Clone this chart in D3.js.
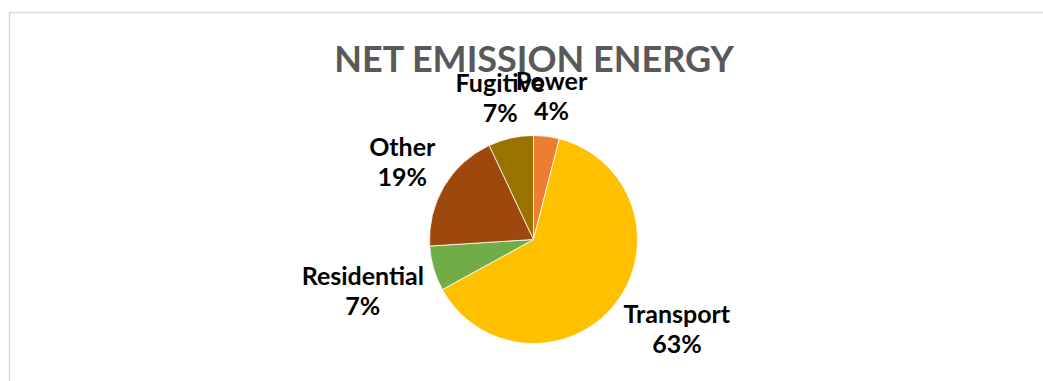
<!DOCTYPE html>
<html>
<head>
<meta charset="utf-8">
<script src="https://cdn.jsdelivr.net/npm/d3@7"></script>
<style>
  html, body { margin: 0; padding: 0; background: #fff; }
  svg { display: block; }
</style>
</head>
<body>
<script>
// Net emissions from the energy sector, share by source (%)
const categories = ["Power", "Transport", "Residential", "Other", "Fugitive"];
const shares = [4, 63, 7, 19, 7];
const colors = ["#ED7D31", "#FFC000", "#70AD47", "#9E480E", "#997300"];
const chartTitle = "NET EMISSION ENERGY";

const W = 1043, H = 381;
const svg = d3.select("body").append("svg").attr("width", W).attr("height", H);

// chart frame
svg.append("rect")
  .attr("x", 9.5).attr("y", 12.5)
  .attr("width", W + 20).attr("height", H + 20)
  .attr("fill", "#fff").attr("stroke", "#d9d9d9").attr("stroke-width", 1.5);

svg.append("text")
  .attr("x", 534).attr("y", 72)
  .attr("text-anchor", "middle")
  .attr("font-family", "Lato, 'Open Sans', sans-serif")
  .attr("font-weight", 700)
  .attr("font-size", 36)
  .attr("fill", "#595959")
  .text(chartTitle);

const cx = 533.5, cy = 239.5, R = 104;
const g = svg.append("g").attr("transform", `translate(${cx},${cy})`);

const rows = categories.map((c, i) => ({ name: c, value: shares[i], color: colors[i] }));
const pie = d3.pie().value(d => d.value).sort(null);
const arc = d3.arc().innerRadius(0).outerRadius(R);
const arcs = pie(rows);

g.selectAll("path.slice")
  .data(arcs)
  .join("path")
  .attr("class", "slice")
  .attr("d", arc)
  .attr("fill", d => d.data.color)
  .attr("stroke", "#fff")
  .attr("stroke-width", 0.8);

// outside-end labels: anchor on the mid-angle ray, then shift the two-line
// box away from the pie (corner-aligned at the sides, centred near the top)
const labelR = R + 10;
const fontSize = 25, lineGap = 30, capH = 18;
const shiftX = v => Math.sign(v) * Math.min(1, 0.8 * Math.abs(v) + 1.5 * Math.pow(Math.abs(v), 3));
const shiftY = v => Math.sign(v) * Math.min(1, 4 * Math.abs(v)) * (0.8 + 1.6 * Math.max(0, Math.abs(v) - 0.7));

const lab = g.selectAll("text.lab").data(arcs).join("text")
  .attr("class", "lab")
  .attr("text-anchor", "middle")
  .attr("font-family", "Lato, 'Open Sans', sans-serif")
  .attr("font-weight", 700)
  .attr("font-size", fontSize)
  .attr("fill", "#000");

lab.each(function (d) {
  const t = d3.select(this);
  const l1 = t.append("tspan").text(d.data.name);
  const l2 = t.append("tspan").text(d.data.value + "%");
  const w = Math.max(l1.node().getComputedTextLength(), l2.node().getComputedTextLength());
  const h = capH + lineGap;
  const a = (d.startAngle + d.endAngle) / 2;
  const dx = Math.sin(a), dy = -Math.cos(a);
  const bx = dx * labelR + shiftX(dx) * w / 2;
  const by = dy * labelR + shiftY(dy) * h / 2;
  l1.attr("x", bx).attr("y", by - h / 2 + capH);
  l2.attr("x", bx).attr("y", by + h / 2);
});
</script>
</body>
</html>
